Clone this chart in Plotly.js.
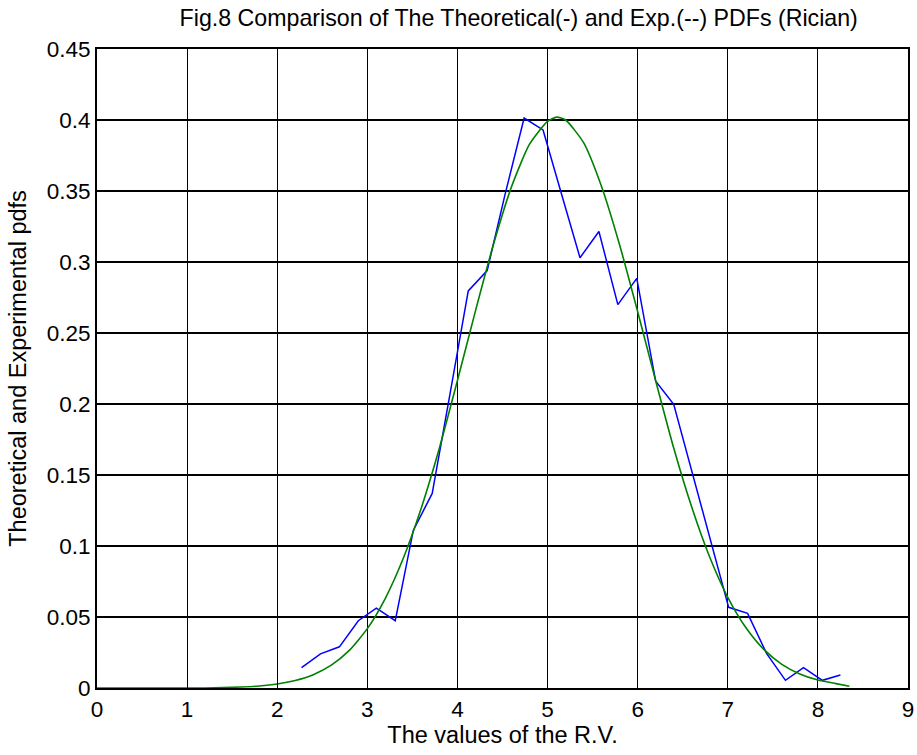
<!DOCTYPE html>
<html>
<head>
<meta charset="utf-8">
<script src="https://cdn.plot.ly/plotly-3.0.1.min.js"></script>
<style>html,body{margin:0;padding:0;background:#fff;}#chart{width:917px;height:755px;}</style>
</head>
<body>
<div id="chart"></div>
<script>
// Experimental PDF (blue)
const expX = [2.27, 2.48, 2.69, 2.90, 3.10, 3.31, 3.51, 3.72, 3.92, 4.12, 4.33, 4.53, 4.74, 4.95, 5.15, 5.36, 5.57, 5.78, 5.99, 6.20, 6.40, 6.60, 6.80, 7.01, 7.22, 7.43, 7.64, 7.84, 8.05, 8.25];
const expY = [0.0143, 0.0240, 0.0290, 0.0474, 0.0563, 0.0474, 0.1110, 0.1370, 0.2080, 0.2796, 0.2940, 0.3480, 0.4014, 0.3930, 0.3490, 0.3030, 0.3215, 0.2700, 0.2885, 0.2160, 0.1998, 0.1530, 0.1050, 0.0568, 0.0526, 0.0244, 0.0054, 0.0143, 0.0054, 0.0092];

// Theoretical PDF (green)
const thX = [0, 0.4, 0.8, 1.2, 1.6, 1.8, 2.0, 2.2, 2.4, 2.6, 2.8, 3.0, 3.2, 3.4, 3.6, 3.8, 4.0, 4.2, 4.4, 4.6, 4.8, 5.0, 5.1, 5.2, 5.4, 5.6, 5.8, 6.0, 6.2, 6.4, 6.6, 6.8, 7.0, 7.2, 7.4, 7.6, 7.8, 8.0, 8.2, 8.35];
const thY = [0, 0, 0, 0, 0.0007, 0.0014, 0.0028, 0.0053, 0.0094, 0.0161, 0.0265, 0.0418, 0.0632, 0.0915, 0.127, 0.169, 0.2165, 0.2656, 0.3125, 0.353, 0.383, 0.399, 0.402, 0.400, 0.384, 0.353, 0.312, 0.265, 0.2163, 0.169, 0.1274, 0.0921, 0.0639, 0.0426, 0.0272, 0.0167, 0.0099, 0.0056, 0.0031, 0.0012];

const xTicks = [0,1,2,3,4,5,6,7,8,9];
const yTicks = [0,0.05,0.1,0.15,0.2,0.25,0.3,0.35,0.4,0.45];
const yTickText = ['0','0.05','0.1','0.15','0.2','0.25','0.3','0.35','0.4','0.45'];

const traces = [
  {x: expX, y: expY, type: 'scatter', mode: 'lines', line: {color: '#0000ff', width: 1.5}, hoverinfo: 'skip'},
  {x: thX, y: thY, type: 'scatter', mode: 'lines', line: {color: '#008000', width: 1.6, shape: 'spline', smoothing: 0.6}, hoverinfo: 'skip'}
];

const font = {family: 'Liberation Sans, Arial, sans-serif', color: '#000'};
const layout = {
  width: 917, height: 755,
  margin: {l: 97, r: 9, t: 49, b: 67},
  paper_bgcolor: '#fff', plot_bgcolor: '#fff',
  showlegend: false,
  font: Object.assign({size: 22}, font),
  title: {text: 'Fig.8 Comparison of The Theoretical(-) and Exp.(--) PDFs (Rician)', font: Object.assign({size: 23.2}, font), x: 0.52, xanchor: 'center', xref: 'paper', y: 0.976, yanchor: 'middle'},
  xaxis: {
    range: [0, 9], tickvals: xTicks, ticktext: xTicks.map(String),
    showgrid: true, gridcolor: '#000', gridwidth: 1.2, zeroline: false,
    showline: true, linecolor: '#000', linewidth: 2, mirror: true,
    ticks: 'inside', ticklen: 5, tickcolor: '#000',
    tickfont: Object.assign({size: 22.5}, font),
    title: {text: 'The values of the R.V.', font: Object.assign({size: 23.5}, font), standoff: 4}
  },
  yaxis: {
    range: [0, 0.45], tickvals: yTicks, ticktext: yTickText,
    showgrid: true, gridcolor: '#000', gridwidth: 1.2, zeroline: false,
    showline: true, linecolor: '#000', linewidth: 2, mirror: true,
    ticks: 'inside', ticklen: 5, tickcolor: '#000',
    tickfont: Object.assign({size: 22.5}, font),
    title: {text: 'Theoretical and Experimental pdfs', font: Object.assign({size: 23.5}, font), standoff: 13}
  }
};

Plotly.newPlot('chart', traces, layout, {staticPlot: true, displayModeBar: false});
</script>
</body>
</html>
